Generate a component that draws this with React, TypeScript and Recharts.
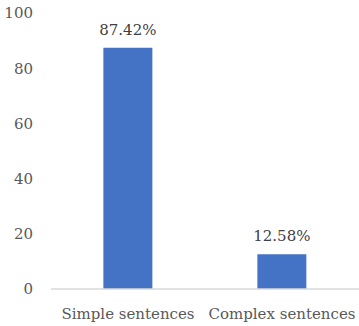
import { BarChart, Bar, XAxis, YAxis, LabelList } from 'recharts'

const categories = ['Simple sentences', 'Complex sentences']
const shares = [87.42, 12.58]
const yTicks = [0, 20, 40, 60, 80, 100]

const data = categories.map((name, i) => ({ name, value: shares[i] }))

// Liberation Serif doesn't seem to resolve here, DejaVu Serif does
const FONT = 'DejaVu Serif'

export default function App() {
  return (
    <div style={{ position: 'absolute', left: 0, top: 0, width: 359, height: 326, background: '#fff' }}>
      <BarChart width={359} height={326} data={data} margin={{ top: 13, right: 0, bottom: 0, left: 0 }} barCategoryGap="34%">
        <XAxis
          dataKey="name"
          height={37}
          tickLine={false}
          axisLine={{ stroke: '#d9d9d9', strokeWidth: 1.5 }}
          tick={{ fill: '#595959', fontSize: 15, fontFamily: FONT }}
          tickMargin={13}
          interval={0}
        />
        <YAxis
          width={51}
          domain={[0, 100]}
          ticks={yTicks}
          axisLine={false}
          tickLine={false}
          tickSize={0}
          tickMargin={18}
          tick={{ fill: '#595959', fontSize: 15, fontFamily: FONT }}
        />
        <Bar dataKey="value" fill="#4472c4" isAnimationActive={false}>
          <LabelList
            dataKey="value"
            position="top"
            offset={13}
            formatter={(v: any) => `${Number(v).toFixed(2)}%`}
            fill="#404040"
            fontSize={15}
            fontFamily={FONT}
          />
        </Bar>
      </BarChart>
    </div>
  )
}
